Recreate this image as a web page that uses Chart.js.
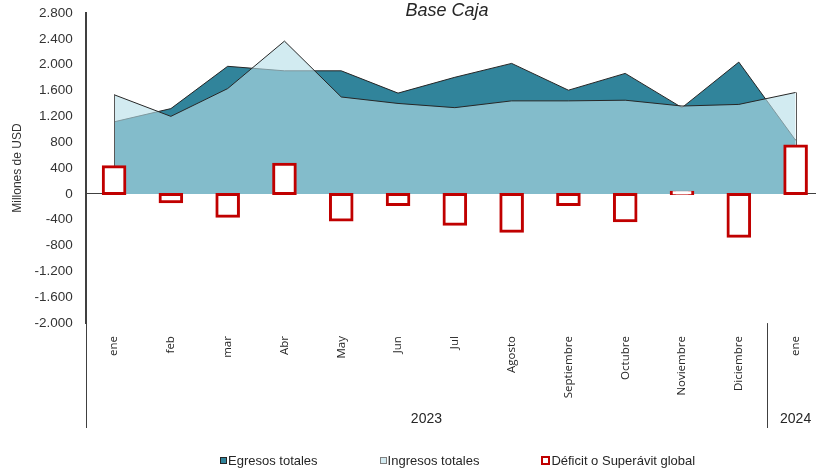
<!DOCTYPE html>
<html>
<head>
<meta charset="utf-8">
<script src="https://cdn.jsdelivr.net/npm/chart.js@4.4.1/dist/chart.umd.min.js"></script>
<style>
  html, body { margin: 0; padding: 0; background: #fff; overflow: hidden; }
  #wrap { position: relative; width: 824px; height: 473px; }
  #title {
    position: absolute; left: 447px; top: -1px; transform: translateX(-50%);
    font: italic 18px 'Liberation Sans', Arial, sans-serif; line-height: 22px;
    color: #262626; white-space: nowrap;
  }
  #legend {
    position: absolute; left: 220px; top: 453px; display: flex;
    font: 13px 'Liberation Sans', Arial, sans-serif; line-height: 15px; color: #262626;
  }
  #legend .item { display: flex; align-items: center; white-space: nowrap; margin-right: 62px; }
  #legend .box { width: 7px; height: 7px; margin-right: 1px; box-sizing: border-box; }
</style>
</head>
<body>
<div id="wrap">
  <canvas id="chart" width="824" height="473"></canvas>
  <div id="title">Base Caja</div>
  <div id="legend"></div>
</div>
<script>
// Millones de USD, ene 2023 - ene 2024
const months = ['ene', 'feb', 'mar', 'Abr', 'May', 'Jun', 'Jul', 'Agosto', 'Septiembre', 'Octubre', 'Noviembre', 'Diciembre', 'ene'];
const years = ['2023', '2024'];
const yearSpans = [12, 1];
const egresos = [1115, 1320, 1975, 1905, 1905, 1560, 1805, 2020, 1605, 1865, 1335, 2040, 830];
const ingresos = [1535, 1200, 1630, 2365, 1500, 1400, 1335, 1440, 1440, 1450, 1360, 1385, 1570];
const saldo = [420, -120, -345, 460, -405, -165, -470, -580, -165, -415, 25, -655, 740];

// second row of the x axis works on half-category slots:
// slot 2*i+1 is the centre of month i, slot 2*i its left edge
const yearSlots = new Array(months.length * 2 + 1).fill('');
const groupEdges = [];
let start = 0;
yearSpans.forEach((span, k) => {
    groupEdges.push(start * 2);
    yearSlots[start * 2 + span] = years[k];
    start += span;
});

const fmt = v => (v < 0 ? '-' : '') + String(Math.abs(v)).replace(/\B(?=(\d{3})+(?!\d))/g, '.');

Chart.defaults.font.family = "'Liberation Sans', Arial, sans-serif";
Chart.defaults.color = '#333';

// vertical lines that split the year groups under the plot
const separators = {
    id: 'separators',
    afterDraw(chart) {
        const {ctx, chartArea, scales} = chart;
        const x2 = scales.x2;
        ctx.save();
        ctx.strokeStyle = '#404040';
        ctx.lineWidth = 1;
        groupEdges.forEach(v => {
            const px = Math.round(x2.getPixelForValue(v)) + 0.5;
            ctx.beginPath();
            ctx.moveTo(px, chartArea.bottom);
            ctx.lineTo(px, x2.bottom);
            ctx.stroke();
        });
        ctx.restore();
    }
};

// excel outlines the two ends of the areas too, line datasets don't
const areaSides = {
    id: 'areaSides',
    afterDatasetDraw(chart, args) {
        if (args.index !== 1) return;
        const {ctx, scales: {x, y}} = chart;
        ctx.save();
        ctx.strokeStyle = '#595959';
        ctx.lineWidth = 1;
        [0, months.length - 1].forEach(i => {
            const px = Math.round(x.getPixelForValue(i)) + 0.5;
            ctx.beginPath();
            ctx.moveTo(px, y.getPixelForValue(Math.max(egresos[i], ingresos[i])));
            ctx.lineTo(px, y.getPixelForValue(0));
            ctx.stroke();
        });
        ctx.restore();
    }
};

const chart = new Chart(document.getElementById('chart'), {
    type: 'bar',
    data: {
        labels: months,
        datasets: [
            {
                type: 'line',
                label: 'Egresos totales',
                data: egresos,
                backgroundColor: '#31849B',
                borderColor: '#262626',
                borderWidth: 1,
                fill: 'origin',
                pointRadius: 0,
                tension: 0,
                order: 3
            },
            {
                type: 'line',
                label: 'Ingresos totales',
                data: ingresos,
                backgroundColor: 'rgba(183, 222, 232, 0.62)',
                borderColor: '#262626',
                borderWidth: 1,
                fill: 'origin',
                pointRadius: 0,
                tension: 0,
                order: 2
            },
            {
                label: 'Déficit o Superávit global',
                data: saldo,
                backgroundColor: '#ffffff',
                borderColor: '#C00000',
                borderWidth: 3,
                borderSkipped: false,
                inflateAmount: 1.5,
                barPercentage: 0.38,
                categoryPercentage: 1,
                order: 1
            }
        ]
    },
    options: {
        responsive: false,
        animation: false,
        layout: {padding: {left: 6, top: 13, right: 0, bottom: 45}},
        plugins: {
            legend: {display: false},
            tooltip: {enabled: false}
        },
        scales: {
            x: {
                offset: true,
                weight: 0,
                grid: {display: false, drawTicks: false},
                border: {display: false},
                ticks: {
                    autoSkip: false,
                    minRotation: 90,
                    maxRotation: 90,
                    padding: 13,
                    color: '#262626',
                    font: {family: "'Open Sans', sans-serif", size: 11.5}
                }
            },
            x2: {
                type: 'category',
                labels: yearSlots,
                position: 'bottom',
                weight: 1,
                offset: false,
                grid: {display: false, drawTicks: false},
                border: {display: false},
                ticks: {
                    autoSkip: false,
                    maxRotation: 0,
                    padding: 0,
                    color: '#262626',
                    font: {size: 14}
                }
            },
            y: {
                min: -2000,
                max: 2800,
                border: {display: true, color: '#404040', width: 2},
                grid: {
                    drawTicks: true,
                    tickLength: 12,
                    tickColor: 'transparent',
                    color: ctx => (ctx.tick && ctx.tick.value === 0) ? '#404040' : 'transparent'
                },
                ticks: {
                    stepSize: 400,
                    padding: 1,
                    font: {size: 13.5},
                    callback: v => fmt(v)
                },
                title: {
                    display: true,
                    text: 'Millones de USD',
                    padding: {top: 4, bottom: 9},
                    font: {size: 12}
                }
            }
        }
    },
    plugins: [separators, areaSides]
});

// legend built from the datasets so it stays in sync with the chart
const legend = document.getElementById('legend');
chart.data.datasets.forEach(ds => {
    const item = document.createElement('div');
    item.className = 'item';
    const box = document.createElement('span');
    box.className = 'box';
    box.style.background = ds.backgroundColor;
    if (ds.type === 'line') {
        box.style.border = '1px solid ' + (ds.label === 'Ingresos totales' ? '#7f7f7f' : '#262626');
    } else {
        box.style.width = '9px';
        box.style.height = '9px';
        box.style.border = '2px solid ' + ds.borderColor;
    }
    const text = document.createElement('span');
    text.textContent = ds.label;
    item.appendChild(box);
    item.appendChild(text);
    legend.appendChild(item);
});
</script>
</body>
</html>
